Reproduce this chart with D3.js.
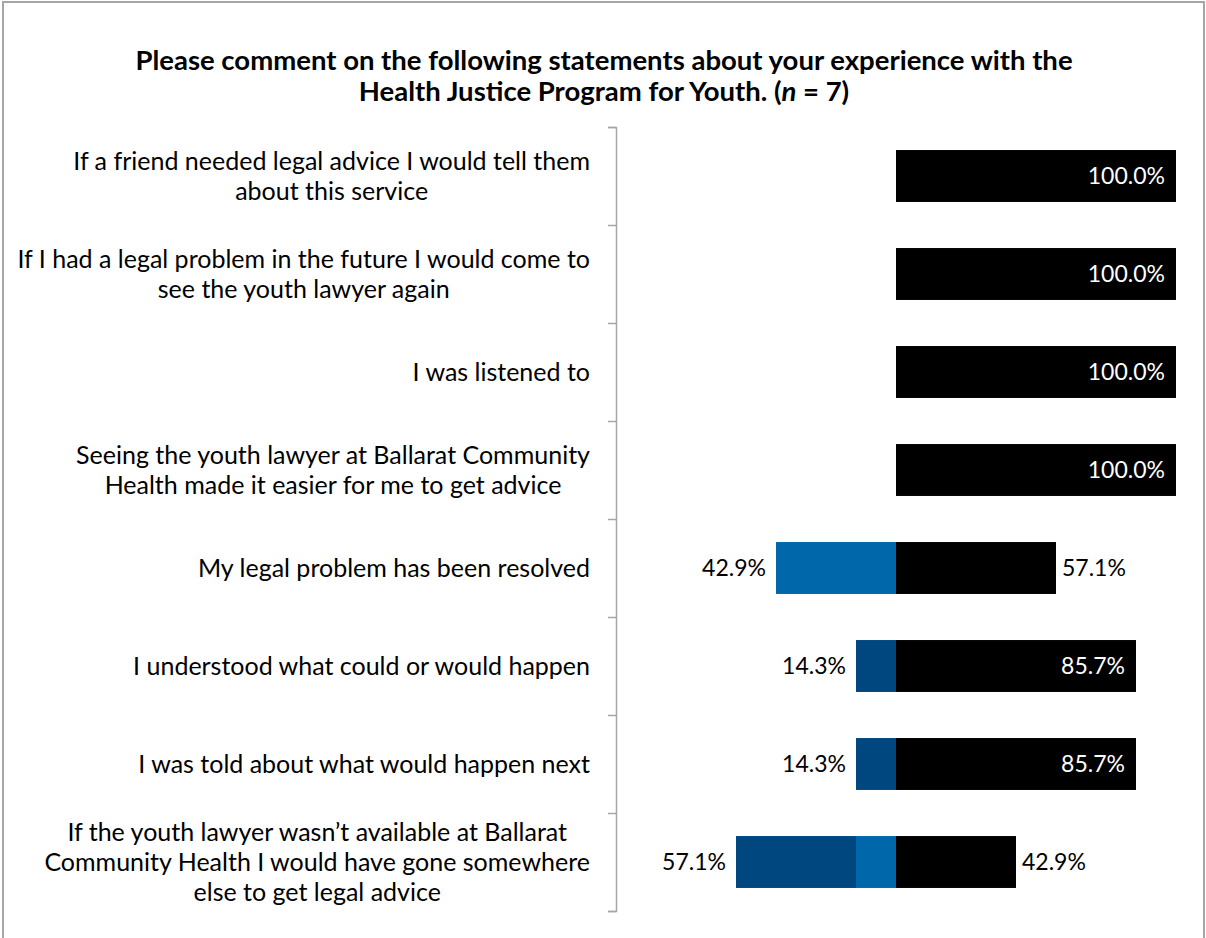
<!DOCTYPE html>
<html>
<head>
    <meta charset="utf-8">
    <title></title>
    <style type="text/css">
        html, body {
            margin: 0;
            padding: 0;
            background: #fff;
        }
        text {
            font-family: Lato, "Open Sans", sans-serif;
        }
    </style>
</head>
<body>
<svg id="svg" width="1206" height="938"></svg>

<script src="https://cdn.jsdelivr.net/npm/d3@7/dist/d3.min.js"></script>
<script type="text/javascript">
    // statements, one array of lines each (as broken in the chart)
    var categories = [
        ['If a friend needed legal advice I would tell them', 'about this service'],
        ['If I had a legal problem in the future I would come to', 'see the youth lawyer again'],
        ['I was listened to'],
        ['Seeing the youth lawyer at Ballarat Community', 'Health made it easier for me to get advice'],
        ['My legal problem has been resolved'],
        ['I understood what could or would happen'],
        ['I was told about what would happen next'],
        ['If the youth lawyer wasn\u2019t available at Ballarat', 'Community Health I would have gone somewhere', 'else to get legal advice']
    ];
    // percent of the 7 answers
    var darkBlue  = [0, 0, 0, 0, 0, 14.286, 14.286, 42.857];
    var lightBlue = [0, 0, 0, 0, 42.857, 0, 0, 14.286];
    var black     = [100, 100, 100, 100, 57.143, 85.714, 85.714, 42.857];

    var colors = {dark: '#00477f', light: '#0068aa', black: '#000000'};

    var svg = d3.select('#svg');

    // frame
    svg.append('rect')
        .attr('x', 3).attr('y', 2)
        .attr('width', 1201).attr('height', 950)
        .attr('fill', 'none')
        .attr('stroke', '#a6a6a6')
        .attr('stroke-width', 2);

    // title
    var title = svg.append('text')
        .attr('text-anchor', 'middle')
        .attr('font-weight', 'bold')
        .attr('font-size', 27.5)
        .attr('fill', '#000');
    title.append('tspan').attr('x', 604).attr('y', 70)
        .text('Please comment on the following statements about your experience with the');
    var t2 = title.append('tspan').attr('x', 604).attr('y', 101);
    t2.append('tspan').text('Health Justice Program for Youth. (');
    t2.append('tspan').attr('font-style', 'italic').text('n');
    t2.append('tspan').text(' = 7)');

    var yTop = 127, yBottom = 911, axisX = 616;

    var x = d3.scaleLinear().domain([-100, 100]).range([axisX, 1176]);
    var y = d3.scaleBand().domain(d3.range(categories.length)).range([yTop, yBottom]).paddingInner(0.47).paddingOuter(0.235);
    var yEdge = d3.scaleLinear().domain([0, categories.length]).range([yTop, yBottom]);

    // axis with ticks between the categories
    var axis = svg.append('g')
        .attr('transform', 'translate(' + axisX + ',0)')
        .call(d3.axisLeft(yEdge).tickValues(d3.range(categories.length + 1)).tickSize(8).tickFormat(''));
    axis.selectAll('path, line').attr('stroke', '#a6a6a6').attr('stroke-width', 1.5);

    // build segments
    var rows = categories.map(function (c, i) {
        return {i: i, dark: darkBlue[i], light: lightBlue[i], black: black[i]};
    });
    var segs = [];
    rows.forEach(function (r) {
        segs.push({i: r.i, x0: -r.light, x1: 0, c: colors.light});
        segs.push({i: r.i, x0: -r.light - r.dark, x1: -r.light, c: colors.dark});
        segs.push({i: r.i, x0: 0, x1: r.black, c: colors.black});
    });

    svg.append('g').selectAll('rect')
        .data(segs.filter(function (d) { return d.x1 > d.x0; }))
        .enter()
        .append('rect')
        .attr('x', function (d) { return x(d.x0); })
        .attr('y', function (d) { return y(d.i); })
        .attr('width', function (d) { return x(d.x1) - x(d.x0); })
        .attr('height', y.bandwidth())
        .attr('fill', function (d) { return d.c; });

    var fmt = function (v) { return v.toFixed(1) + '%'; };

    // value labels
    var vl = svg.append('g').attr('font-size', 23);
    rows.forEach(function (r) {
        var cy = y(r.i) + y.bandwidth() / 2;
        var inside = r.black > 60;
        vl.append('text')
            .attr('x', inside ? x(r.black) - 11 : x(r.black) + 6)
            .attr('y', cy)
            .attr('dy', '0.35em')
            .attr('text-anchor', inside ? 'end' : 'start')
            .attr('fill', inside ? '#fff' : '#000')
            .text(fmt(r.black));
        var left = r.dark + r.light;
        if (left > 0) {
            vl.append('text')
                .attr('x', x(-left) - 10)
                .attr('y', cy)
                .attr('dy', '0.35em')
                .attr('text-anchor', 'end')
                .attr('fill', '#000')
                .text(fmt(left));
        }
    });

    // category labels: block right aligned, lines centred in the block
    var lab = svg.append('g').attr('font-size', 25).attr('fill', '#000');
    var lineH = 30;
    categories.forEach(function (lines, i) {
        var cy = y(i) + y.bandwidth() / 2;
        var g = lab.append('g');
        var ts = lines.map(function (s, k) {
            return g.append('text')
                .attr('y', cy + (k - (lines.length - 1) / 2) * lineH)
                .attr('dy', '0.35em')
                .attr('text-anchor', 'middle')
                .text(s);
        });
        var w = d3.max(ts, function (t) { return t.node().getComputedTextLength(); });
        ts.forEach(function (t) { t.attr('x', 590 - w / 2); });
    });
</script>
</body>
</html>
